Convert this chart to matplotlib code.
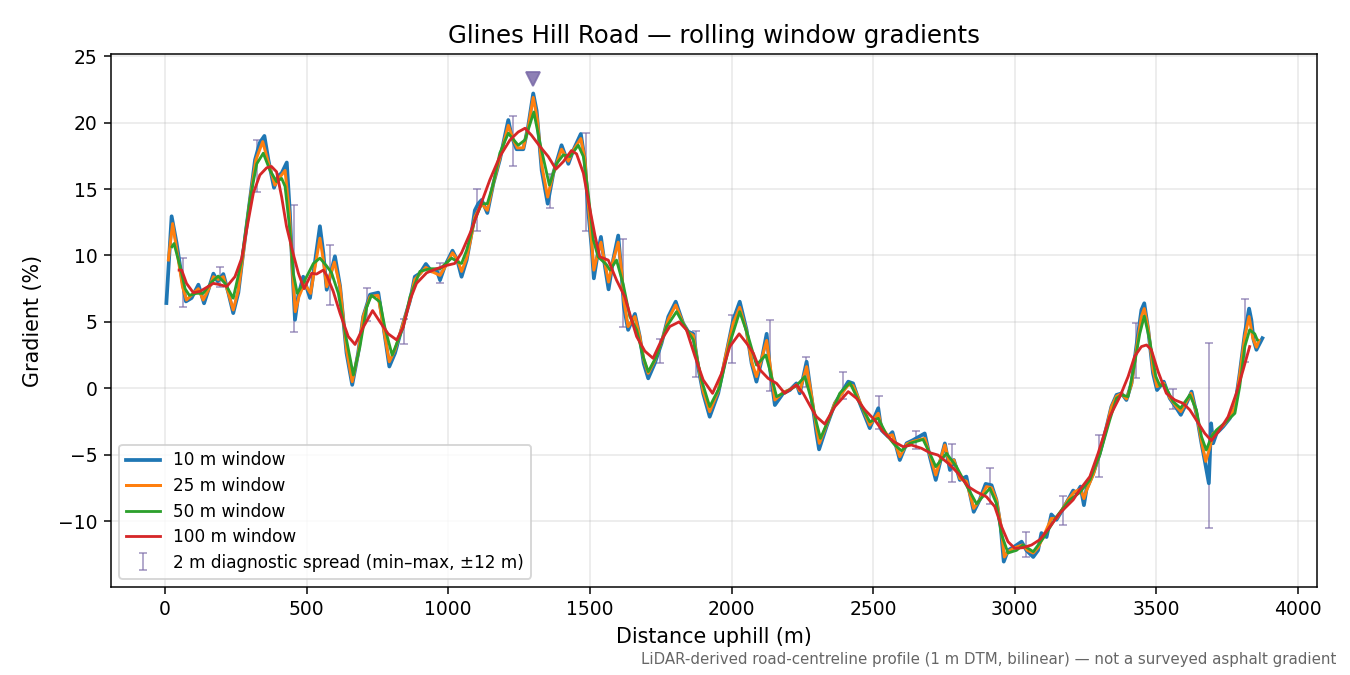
import matplotlib
matplotlib.use("Agg")
import matplotlib.pyplot as plt
import numpy as np

# ---------------- data ----------------
x10 = [5, 23.5, 41, 59, 74, 94, 118, 138, 153, 171, 186, 206, 224, 241, 259, 276, 300, 318, 335, 351,
       365, 385, 400, 412, 430, 441, 450, 459, 470, 488, 512, 529, 547, 559, 571, 600, 618, 641, 661, 682,
       700, 724, 753, 771, 792, 812, 841, 865, 882, 900, 921, 941, 959, 971, 988, 1015, 1032, 1047, 1065,
       1082, 1094, 1106, 1118, 1138, 1159, 1182, 1212, 1224, 1241, 1265, 1282, 1300, 1312, 1330, 1351,
       1371, 1400, 1424, 1441, 1468, 1482, 1494, 1506, 1514, 1524, 1539, 1553, 1566, 1582, 1600, 1612,
       1620, 1635, 1659, 1676, 1690, 1706, 1729, 1753, 1777, 1803, 1829, 1847, 1865, 1882, 1900, 1923,
       1953, 1982, 2006, 2029, 2053, 2071, 2088, 2106, 2124, 2135, 2153, 2182, 2206, 2229, 2241, 2265,
       2282, 2300, 2309, 2335, 2365, 2412, 2429, 2453, 2488, 2518, 2529, 2553, 2568, 2594, 2618, 2641,
       2682, 2700, 2721, 2741, 2753, 2771, 2785, 2806, 2829, 2855, 2876, 2897, 2918, 2935, 2950, 2961,
       2976, 3000, 3024, 3041, 3065, 3082, 3094, 3112, 3129, 3147, 3171, 3188, 3206, 3218, 3232, 3244,
       3253, 3277, 3300, 3324, 3341, 3359, 3377, 3394, 3412, 3429, 3447, 3457, 3471, 3488, 3502, 3526,
       3547, 3571, 3586, 3606, 3624, 3641, 3659, 3671, 3685, 3693, 3700, 3712, 3735, 3759, 3777, 3794,
       3812, 3827, 3835, 3843, 3853, 3865, 3874]
y10 = [6.42, 12.95, 10.94, 8.43, 6.54, 6.8, 7.8, 6.4, 7.4, 8.63, 8.05, 8.6, 7.17, 5.66, 7.2, 10.19, 14.2, 17.2, 18.5, 19.0,
       17.2, 15.1, 16.0, 16.2, 17.0, 13.2, 8.9, 5.16, 6.9, 8.4, 6.8, 9.4, 12.2, 10.2, 7.42, 9.94, 7.7, 2.65, 0.26, 2.65,
       5.41, 7.05, 7.2, 4.7, 1.64, 2.65, 4.9, 6.6, 8.4, 8.65, 9.36, 8.8, 8.9, 8.15, 9.2, 10.36, 9.65, 8.4, 9.65,
       11.67, 13.4, 13.9, 14.18, 13.2, 15.4, 17.2, 20.2, 18.95, 18.0, 18.0, 19.7, 22.2, 20.9, 16.4, 13.9,
       16.2, 18.3, 16.9, 17.9, 19.15, 17.2, 13.4, 10.66, 8.28, 9.65, 11.4, 9.2, 7.45, 9.65, 11.5, 8.6,
       6.15, 4.4, 5.6, 3.9, 1.88, 0.75, 1.88, 3.4, 5.4, 6.52, 4.9, 4.26, 4.1, 1.63, -0.38, -2.14,
       -0.38, 2.64, 5.15, 6.52, 4.4, 1.88, 0.5, 2.1, 4.1, 1.6, -1.26, -0.38, -0.13, 0.37, -0.38, 2.0,
       -0.63, -3.4, -4.6, -2.9, -1.13, 0.5, 0.37, -1.13, -3.0, -1.5, -3.14, -3.64, -3.3, -5.4, -4.14, -3.9,
       -3.4, -5.15, -6.9, -5.15, -4.15, -6.15, -5.4, -6.9, -6.65, -9.3, -8.4, -7.2, -7.3, -8.4, -10.4, -13.05,
       -12.2, -11.9, -11.55, -12.2, -12.7, -12.2, -10.9, -11.2, -9.5, -9.9, -9.05, -8.4, -7.7, -7.9, -7.4, -8.8,
       -7.6, -6.4, -4.9, -2.9, -1.38, -0.5, -0.38, -0.88, 0.38, 3.14, 5.9, 6.4, 4.4, 1.13, -0.13, 0.5,
       -0.75, -1.5, -2.0, -1.13, -0.25, -1.88, -4.14, -5.5, -7.15, -2.64, -4.14, -3.4, -2.9, -2.26, -1.38, 1.13,
       4.14, 6.0, 5.15, 3.64, 2.9, 3.4, 3.77]

x25 = [12, 27, 47, 62, 76, 100, 118, 135, 153, 171, 188, 206, 224, 241, 259, 276, 300, 321, 345, 365,
       388, 406, 424, 439, 450, 460, 473, 492, 514, 532, 547, 559, 571, 598, 618, 641, 661, 682, 700, 724,
       752, 771, 792, 812, 841, 865, 882, 900, 921, 941, 971, 988, 1015, 1032, 1047, 1065, 1082, 1094, 1118,
       1138, 1159, 1182, 1212, 1230, 1244, 1265, 1282, 1300, 1314, 1330, 1351, 1371, 1400, 1424, 1441, 1468,
       1482, 1494, 1506, 1514, 1524, 1539, 1553, 1566, 1582, 1600, 1612, 1620, 1635, 1659, 1676, 1690, 1706,
       1729, 1753, 1777, 1803, 1829, 1847, 1865, 1882, 1900, 1923, 1953, 1982, 2006, 2029, 2053, 2071, 2088,
       2106, 2124, 2137, 2153, 2182, 2206, 2229, 2241, 2265, 2282, 2300, 2310, 2335, 2365, 2412, 2429, 2453,
       2488, 2518, 2529, 2553, 2568, 2594, 2618, 2641, 2682, 2700, 2721, 2741, 2753, 2771, 2785, 2806, 2829,
       2855, 2876, 2900, 2918, 2935, 2950, 2963, 2976, 3000, 3027, 3045, 3065, 3082, 3100, 3129, 3147, 3171,
       3188, 3210, 3232, 3244, 3253, 3277, 3300, 3324, 3341, 3359, 3377, 3394, 3412, 3429, 3447, 3457, 3471,
       3488, 3502, 3526, 3547, 3571, 3586, 3606, 3622, 3641, 3659, 3674, 3688, 3700, 3712, 3735, 3759, 3777,
       3794, 3812, 3827, 3840, 3853, 3862]
y25 = [9.66, 12.4, 9.66, 7.65, 6.65, 7.15, 7.5, 6.65, 7.4, 8.4, 8.2, 8.4, 7.15, 5.9, 7.4, 10.1, 14.2, 17.2, 18.57, 17.0,
       15.3, 15.9, 16.4, 13.2, 8.9, 5.77, 6.9, 7.9, 7.15, 9.4, 11.3, 9.66, 7.65, 9.5, 7.65, 2.9, 0.5, 2.6, 5.4, 6.9,
       7.0, 4.6, 2.0, 2.9, 4.9, 6.6, 8.2, 8.6, 9.1, 8.8, 8.5, 9.1, 10.2, 9.7, 8.8, 9.8, 11.5, 12.9, 13.9,
       13.4, 15.4, 17.3, 19.8, 18.7, 18.1, 18.1, 19.6, 21.9, 20.3, 16.8, 14.4, 16.2, 18.0, 17.1, 17.9, 18.8,
       17.3, 14.0, 11.0, 8.9, 9.8, 11.0, 9.4, 8.0, 9.6, 11.0, 8.8, 6.6, 4.65, 5.4, 3.9, 2.2, 1.13,
       2.1, 3.5, 5.2, 6.27, 4.9, 4.2, 3.98, 1.8, -0.2, -1.76, -0.2, 2.7, 4.9, 6.1, 4.3, 2.0, 0.88,
       2.2, 3.6, 1.6, -0.88, -0.3, -0.1, 0.25, -0.2, 1.63, -0.5, -3.0, -4.14, -2.8, -1.1, 0.25, 0.2, -1.0,
       -2.77, -1.88, -2.9, -3.6, -3.5, -5.15, -4.2, -4.0, -3.77, -5.0, -6.53, -5.1, -4.27, -5.8, -5.4, -6.8, -7.0,
       -9.04, -8.4, -7.4, -7.5, -8.4, -10.2, -12.7, -12.3, -12.0, -11.8, -12.2, -12.4, -12.0, -11.2, -9.8, -9.8, -9.0,
       -8.4, -7.8, -7.6, -8.3, -7.7, -6.5, -4.9, -2.9, -1.4, -0.6, -0.4, -0.8, 0.3, 2.9, 5.4, 6.0, 4.5,
       1.4, 0.13, 0.38, -0.7, -1.4, -1.75, -1.0, -0.38, -1.8, -4.0, -5.5, -4.5, -3.4, -3.3, -2.8, -2.2, -1.4,
       1.0, 3.9, 5.4, 3.8, 3.1, 3.6]

x50 = [25, 32, 53, 71, 86, 112, 135, 165, 188, 212, 241, 271, 300, 324, 347, 371, 394, 412, 424, 441,
       453, 467, 488, 524, 547, 571, 588, 612, 641, 665, 688, 712, 729, 759, 776, 802, 841, 865, 900, 935,
       971, 1012, 1035, 1047, 1065, 1094, 1118, 1138, 1159, 1182, 1212, 1247, 1271, 1302, 1324, 1357, 1382,
       1406, 1430, 1459, 1477, 1494, 1512, 1529, 1559, 1571, 1594, 1618, 1641, 1665, 1688, 1706, 1735, 1771,
       1806, 1835, 1865, 1894, 1923, 1959, 1994, 2029, 2059, 2088, 2121, 2135, 2159, 2194, 2229, 2259, 2282,
       2300, 2314, 2347, 2382, 2418, 2447, 2488, 2518, 2547, 2576, 2600, 2629, 2676, 2700, 2721, 2759, 2794,
       2829, 2865, 2912, 2935, 2953, 2976, 3006, 3029, 3065, 3100, 3147, 3194, 3229, 3265, 3300, 3335, 3359,
       3377, 3400, 3423, 3441, 3457, 3476, 3498, 3512, 3529, 3559, 3585, 3618, 3641, 3659, 3676, 3694, 3712,
       3747, 3777, 3794, 3812, 3829, 3847, 3856]
y50 = [10.66, 10.9, 9.2, 7.5, 7.0, 7.15, 7.15, 8.0, 8.45, 7.9, 6.78, 9.66, 14.2, 16.9, 17.7, 16.4, 15.56, 15.8, 15.2, 11.9,
       8.66, 7.15, 7.9, 9.4, 9.8, 9.2, 8.7, 7.15, 3.64, 1.0, 3.1, 6.1, 7.0, 6.5, 4.6, 2.5, 4.6, 6.9, 8.8, 9.0,
       9.0, 9.8, 9.5, 9.4, 10.4, 12.7, 13.9, 13.9, 15.4, 17.7, 19.2, 18.3, 18.7, 20.8, 18.45, 15.3, 16.9,
       17.57, 17.45, 18.3, 17.45, 14.7, 11.2, 9.9, 9.3, 8.9, 9.65, 7.8, 5.4, 4.4, 2.4, 1.25, 2.4, 4.65,
       5.77, 4.65, 3.64, 0.63, -1.38, 0.13, 3.4, 5.77, 3.9, 1.75, 2.5, 1.4, -0.63, -0.25, 0.2, 0.88, -0.88,
       -2.6, -3.77, -2.14, -0.38, 0.42, -0.88, -2.52, -2.26, -3.5, -4.26, -4.7, -4.15, -3.85, -4.9, -5.9, -4.9, -5.9,
       -7.3, -8.7, -7.53, -8.66, -11.0, -12.4, -12.2, -11.8, -12.3, -11.3, -9.67, -8.4, -7.85, -6.9, -5.0, -2.4, -0.75,
       -0.5, -0.63, 1.88, 4.1, 5.44, 3.64, 0.88, 0.2, 0.25, -1.0, -1.5, -0.5, -1.63, -3.64, -4.65, -3.64, -3.14,
       -2.5, -1.88, 0.13, 3.14, 4.4, 4.1, 3.64]

x100 = [50, 59, 76, 100, 124, 171, 194, 218, 247, 271, 288, 312, 335, 359, 376, 394, 412, 429, 453, 471,
        491, 518, 535, 559, 571, 594, 618, 647, 671, 700, 733, 759, 788, 818, 841, 865, 888, 924, 959, 994,
        1023, 1047, 1077, 1112, 1147, 1182, 1218, 1247, 1271, 1294, 1324, 1353, 1380, 1406, 1435, 1453, 1477,
        1500, 1518, 1535, 1565, 1594, 1623, 1641, 1665, 1694, 1723, 1753, 1782, 1815, 1841, 1871, 1900, 1933,
        1965, 1994, 2027, 2053, 2077, 2100, 2129, 2159, 2188, 2229, 2253, 2282, 2300, 2329, 2365, 2412, 2441,
        2471, 2506, 2535, 2571, 2606, 2635, 2671, 2700, 2729, 2765, 2800, 2835, 2865, 2900, 2929, 2953, 2976,
        3000, 3029, 3059, 3088, 3118, 3159, 3206, 3229, 3265, 3294, 3335, 3371, 3400, 3423, 3447, 3465, 3482,
        3506, 3535, 3565, 3594, 3618, 3641, 3671, 3694, 3723, 3753, 3782, 3806, 3829]
y100 = [8.9, 8.9, 7.9, 7.2, 7.3, 7.9, 7.8, 7.66, 8.4, 9.8, 11.9, 14.7, 16.06, 16.6, 16.7, 16.3, 14.4, 12.2, 10.1, 8.66,
        7.5, 8.66, 8.6, 8.9, 8.5, 7.3, 5.65, 3.9, 3.3, 4.6, 5.85, 5.0, 4.1, 3.64, 4.6, 6.65, 7.9, 8.7, 9.0, 9.25,
        9.4, 10.2, 11.67, 13.67, 15.7, 17.45, 18.7, 19.3, 19.58, 19.05, 18.2, 17.45, 16.5, 17.06, 17.9, 17.65, 16.2,
        13.5, 11.5, 9.9, 9.65, 8.15, 6.9, 5.6, 3.9, 2.8, 2.26, 3.64, 4.65, 5.0, 4.4, 2.4, 0.63, -0.38,
        1.13, 3.14, 4.1, 3.4, 2.64, 1.4, 0.75, 0.37, -0.38, 0.25, -0.38, -1.5, -2.14, -2.69, -1.38, -0.25, -0.75,
        -1.63, -2.4, -3.27, -4.0, -4.4, -4.27, -4.52, -4.85, -5.03, -5.65, -6.4, -7.4, -7.8, -8.17, -8.9, -10.4, -11.55,
        -12.05, -12.0, -11.8, -11.4, -10.6, -9.4, -8.4, -7.65, -6.65, -4.9, -2.14, -0.63, 0.88, 2.4, 3.14, 3.26, 2.9,
        1.25, -0.38, -0.88, -1.13, -1.63, -2.4, -3.4, -3.94, -3.14, -2.14, -0.38, 1.38, 3.14]

# 2 m diagnostic spread: min and max within +-12 m
diag_x = [65, 196, 323.5, 455, 582, 712, 843.5, 970.6, 1102, 1229, 1359, 1488, 1616, 1747, 1876,
          2003, 2135, 2262, 2392, 2521, 2651, 2780, 2912, 3039, 3171, 3297, 3427, 3559, 3685, 3814]
diag_min = [6.15, 7.6, 14.8, 4.27, 6.3, 5.1, 3.3, 7.95, 11.87, 16.74, 13.55, 11.87, 4.64, 1.93, 0.88,
            1.93, -0.18, 0.07, -0.83, -3.1, -4.6, -7.03, -8.72, -12.68, -10.3, -6.66, 0.75, -1.55, -10.54, 2.0]
diag_max = [9.8, 9.16, 18.7, 13.8, 10.8, 7.57, 5.2, 9.46, 15.0, 20.5, 16.1, 19.25, 11.24, 3.71, 4.31,
            5.52, 5.15, 2.38, 1.25, -0.55, -3.19, -4.2, -6.02, -10.8, -8.11, -3.52, 4.94, -0.05, 3.39, 6.72]

peak_x = [1300]
peak_y = [23.3]

series_labels = ["10 m window", "25 m window", "50 m window", "100 m window"]
series_colors = ["#1f77b4", "#ff7f0e", "#2ca02c", "#d62728"]

# ---------------- plot ----------------
fig = plt.figure(figsize=(10, 5), dpi=135)
ax = fig.add_axes([0.0822, 0.1304, 0.8934, 0.7896])

series = [(x10, y10), (x25, y25), (x50, y50), (x100, y100)]
widths = [2.0, 1.6, 1.5, 1.5]
for (xs, ys), lab, col, lw in zip(series, series_labels, series_colors, widths):
    ax.plot(xs, ys, color=col, lw=lw, label=lab, zorder=2)

dmin = np.array(diag_min)
dmax = np.array(diag_max)
mid = (dmin + dmax) / 2
half = (dmax - dmin) / 2
ax.errorbar(diag_x, mid, yerr=half, fmt="none", ecolor="#7a6aa8", alpha=0.6,
            elinewidth=1.0, capsize=2, capthick=1.0, zorder=1,
            label="2 m diagnostic spread (min\u2013max, \u00b112 m)")

ax.plot(peak_x, peak_y, marker="v", linestyle="none", color="#7a6aa8", alpha=0.85,
        markersize=7, zorder=3)

ax.set_xlim(-190.6, 4067)
ax.set_ylim(-14.96, 25.17)
ax.grid(True, color="#b0b0b0", alpha=0.3, lw=0.8)
ax.set_axisbelow(True)

ax.set_title("Glines Hill Road \u2014 rolling window gradients", fontsize=13)
ax.set_xlabel("Distance uphill (m)", fontsize=11)
ax.set_ylabel("Gradient (%)", fontsize=11, labelpad=8)
ax.legend(loc="lower left", fontsize=9, framealpha=0.8, labelspacing=0.45)

fig.text(0.99, 0.012,
         "LiDAR-derived road-centreline profile (1 m DTM, bilinear) \u2014 not a surveyed asphalt gradient",
         ha="right", va="bottom", fontsize=8, color="#666666")

fig.savefig("out.png", dpi=135)
